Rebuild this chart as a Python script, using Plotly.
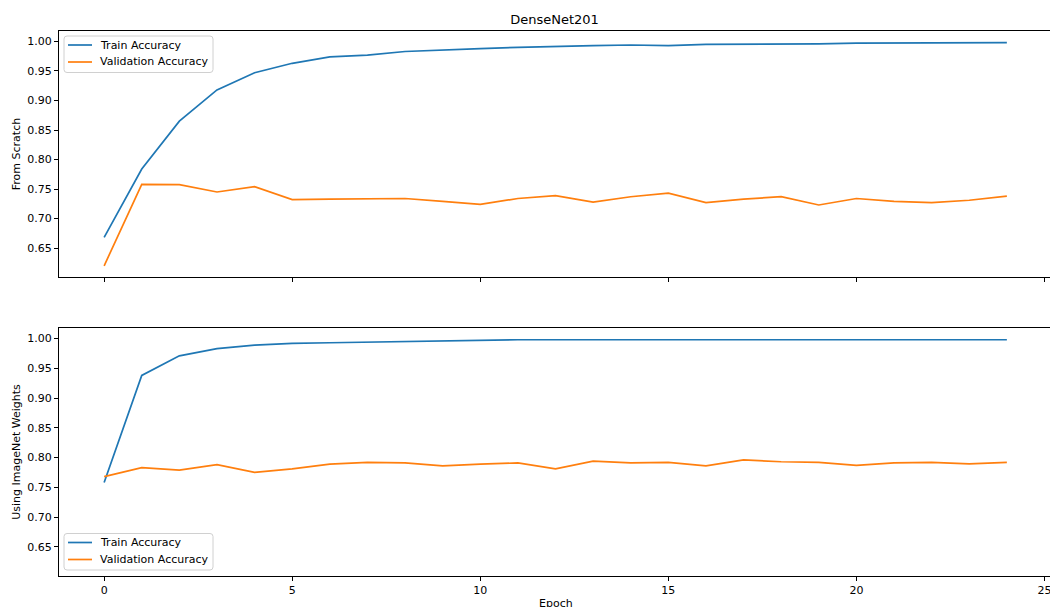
import plotly.graph_objects as go
from plotly.subplots import make_subplots

epochs = list(range(25))

scratch_train = [0.668, 0.784, 0.865, 0.918, 0.947, 0.963, 0.974, 0.977, 0.983, 0.986,
                 0.988, 0.990, 0.992, 0.993, 0.994, 0.993, 0.995, 0.995, 0.996, 0.996,
                 0.997, 0.997, 0.997, 0.998, 0.998]
scratch_val = [0.620, 0.758, 0.7575, 0.745, 0.754, 0.732, 0.733, 0.733, 0.734, 0.729,
               0.724, 0.734, 0.739, 0.728, 0.737, 0.743, 0.727, 0.733, 0.737, 0.723,
               0.734, 0.729, 0.727, 0.731, 0.738]

imagenet_train = [0.758, 0.938, 0.971, 0.983, 0.989, 0.992, 0.993, 0.994, 0.996, 0.996,
                  0.997, 0.998, 0.998, 0.998, 0.998, 0.999, 0.998, 0.998, 0.999, 0.999,
                  0.999, 0.999, 0.999, 0.999, 0.998]
imagenet_val = [0.768, 0.783, 0.779, 0.788, 0.775, 0.781, 0.789, 0.792, 0.791, 0.786,
                0.789, 0.791, 0.781, 0.794, 0.791, 0.792, 0.786, 0.796, 0.793, 0.792,
                0.787, 0.791, 0.792, 0.7895, 0.792]

series_names = ["Train Accuracy", "Validation Accuracy"]
y_ticks = [0.65, 0.70, 0.75, 0.80, 0.85, 0.90, 0.95, 1.00]
y_tick_text = [f"{v:.2f}" for v in y_ticks]
x_ticks = [0, 5, 10, 15, 20, 25]

BLUE = "#1f77b4"
ORANGE = "#ff7f0e"
COLORS = [BLUE, ORANGE]
FONT = "DejaVu Sans"

W, H = 1050, 607
ML, MR, MT, MB = 59, 0, 31, 31
PW, PH = W - ML - MR, H - MT - MB


def px_to_paper(px, py):
    return (px - ML) / PW, (H - MB - py) / PH


fig = make_subplots(rows=2, cols=1, shared_xaxes=True, vertical_spacing=0.0)

panels = [(1, scratch_train, scratch_val), (2, imagenet_train, imagenet_val)]
for row, tr, va in panels:
    for name, ys, col in zip(series_names, [tr, va], COLORS):
        fig.add_trace(go.Scatter(x=epochs, y=ys, mode="lines", name=name,
                                 line=dict(color=col, width=1.7), showlegend=False),
                      row=row, col=1)

axis_common = dict(showline=True, linecolor="black", linewidth=1, ticks="outside",
                   ticklen=4, tickwidth=1, tickcolor="black", showgrid=False,
                   zeroline=False, ticklabeloverflow="allow", automargin=False,
                   tickfont=dict(family=FONT, size=11, color="black"))

fig.update_xaxes(**axis_common, mirror=True, range=[-1.2, 25.147], tickvals=x_ticks)
fig.update_xaxes(showticklabels=False, row=1, col=1)

fig.update_yaxes(**axis_common, range=[0.601, 1.0177], tickvals=y_ticks,
                 ticktext=y_tick_text)
fig.update_yaxes(title=dict(text="From Scratch", font=dict(family=FONT, size=11, color="black"),
                            standoff=4), row=1, col=1)
fig.update_yaxes(title=dict(text="Using ImageNet Weights",
                            font=dict(family=FONT, size=11, color="black"),
                            standoff=4), row=2, col=1)

shapes = []
annotations = []

# x-axis label of the shared epoch axis, sitting just below the tick labels
ex, ey = px_to_paper((ML + 1052) / 2, 603)
annotations.append(dict(text="Epoch", x=ex, y=ey, xref="paper", yref="paper",
                        xanchor="center", yanchor="middle", showarrow=False,
                        font=dict(family=FONT, size=11, color="black")))


# Legend boxes drawn as rounded frames with sample lines and labels
def rounded_rect(x0, y0, x1, y1, r=3):
    a0, b0 = px_to_paper(x0, y0)
    a1, b1 = px_to_paper(x1, y1)
    rx, ry = r / PW, r / PH
    return (f"M {a0+rx},{b0} L {a1-rx},{b0} Q {a1},{b0} {a1},{b0-ry} "
            f"L {a1},{b1+ry} Q {a1},{b1} {a1-rx},{b1} L {a0+rx},{b1} "
            f"Q {a0},{b1} {a0},{b1+ry} L {a0},{b0-ry} Q {a0},{b0} {a0+rx},{b0} Z")


legend_boxes = [(36, [45, 62]), (533.5, [542.5, 559.5])]
for top, rows in legend_boxes:
    shapes.append(dict(type="path", xref="paper", yref="paper",
                       path=rounded_rect(64, top, 213, top + 36.5),
                       line=dict(color="#d0d0d0", width=1),
                       fillcolor="rgba(255,255,255,0.8)", layer="above"))
    for name, col, ry in zip(series_names, COLORS, rows):
        xa, ya = px_to_paper(68, ry)
        xb, _ = px_to_paper(92, ry)
        shapes.append(dict(type="line", xref="paper", yref="paper", x0=xa, x1=xb,
                           y0=ya, y1=ya, line=dict(color=col, width=1.7), layer="above"))
        xt, yt = px_to_paper(98, ry)
        annotations.append(dict(text=name, x=xt, y=yt, xref="paper", yref="paper",
                                xanchor="left", yanchor="middle", showarrow=False,
                                font=dict(family=FONT, size=11, color="black")))

fig.update_layout(
    width=W, height=H,
    margin=dict(l=ML, r=MR, t=MT, b=MB, autoexpand=False),
    paper_bgcolor="white", plot_bgcolor="white",
    font=dict(family=FONT, size=11, color="black"),
    title=dict(text="DenseNet201", x=0.5, xref="paper", xanchor="center",
               y=1 - 19 / H, yref="container", yanchor="middle",
               font=dict(family=FONT, size=13, color="black")),
    yaxis=dict(domain=[0.5486, 1.0]),
    yaxis2=dict(domain=[0.0, 0.455]),
    shapes=shapes,
    annotations=annotations,
    showlegend=False,
)

fig.write_html("out.html")
